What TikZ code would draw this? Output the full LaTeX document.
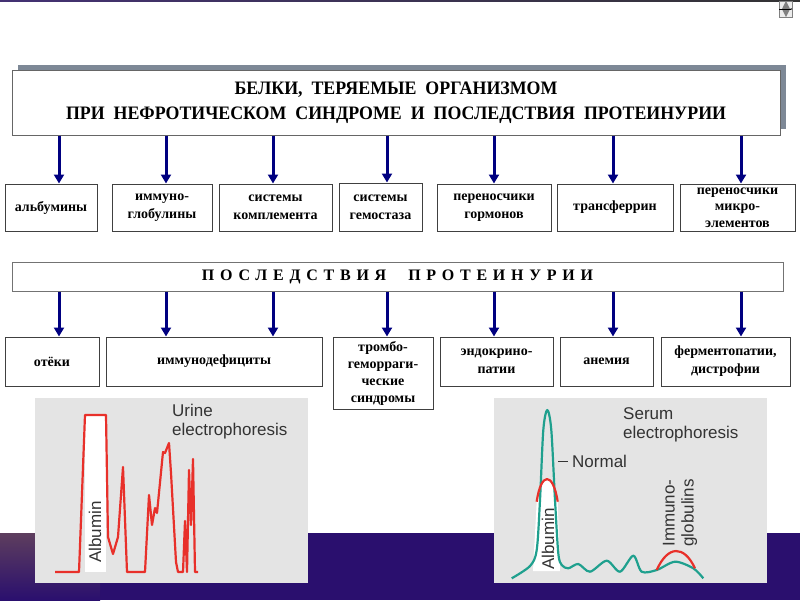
\documentclass[tikz,border=0pt]{standalone}
\usepackage{fontspec}
\setmainfont{Liberation Serif}
\newfontfamily\plotfont{Liberation Sans}
\newfontfamily\titlefont[FakeStretch=0.94]{Liberation Serif}
\newfontfamily\spacedfont[LetterSpace=36]{Liberation Serif}
\usepackage{xcolor}
\usetikzlibrary{arrows.meta}
\definecolor{arrowblue}{HTML}{000080}
\definecolor{shadowgray}{HTML}{7D8896}
\definecolor{bandblue}{HTML}{2A0F6E}
\definecolor{bandmauve}{HTML}{5E3E5E}
\definecolor{panelgray}{HTML}{E4E4E4}
\definecolor{urinered}{HTML}{E8302A}
\definecolor{serumteal}{HTML}{1FA08E}
\definecolor{labelgray}{HTML}{333333}

\begin{document}
\begin{tikzpicture}[x=1pt, y=-1pt,
		block/.style={
			rectangle, draw=black!75, line width=1pt, fill=white,
			align=center, inner sep=2pt,
			font=\fontsize{14}{18}\selectfont\bfseries
		},
		tight/.style={font=\fontsize{14}{16.5}\selectfont\bfseries},
		arrow/.style={-{Triangle[length=9pt,width=10pt]}, line width=3pt, arrowblue},
		trace/.style={line width=2.2pt, line join=round},
		plotlabel/.style={font=\plotfont\fontsize{17}{19}\selectfont, text=labelgray, inner sep=0pt}
	]
	\useasboundingbox (0,0) rectangle (800,600);
	% slide background
	\fill[bandblue] (0,533) rectangle (800,600);
	\shade[top color=bandmauve, bottom color=bandblue] (0,533) rectangle (100,600);
	\shade[left color=bandblue!70!gray, right color=black!80] (0,0) rectangle (800,1.5);
	\node[draw=gray, fill=gray!15, minimum width=13pt, minimum height=16pt, inner sep=0pt] (nav) at (786,9) {};
	\fill[gray] (nav.north) -- ([xshift=-4pt]nav.center) -- (nav.south) -- ([xshift=4pt]nav.center) -- cycle;
	\draw[black, line width=0.6pt, -{Latex[length=2pt]}] (nav.west) -- (nav.east);

	% title with shadow
	\fill[shadowgray] (18,65) rectangle (786,129);
	\node[block, draw=black!60, font=\titlefont\bfseries\fontsize{19}{25}\selectfont,
		minimum width=768pt, minimum height=65pt] (title) at (396,102.5)
		{БЕЛКИ,\ \ ТЕРЯЕМЫЕ\ \ ОРГАНИЗМОМ\\ПРИ\ \ НЕФРОТИЧЕСКОМ\ \ СИНДРОМЕ\ \ И\ \ ПОСЛЕДСТВИЯ\ \ ПРОТЕИНУРИИ};

	% lost proteins
	\node[block, minimum width=92pt, minimum height=47pt] (b1) at (51,207.5) {альбумины};
	\node[block, minimum width=100pt, minimum height=47pt] (b2) at (162,207.5) {иммуно-\\глобулины};
	\node[block, minimum width=113pt, minimum height=47pt] (b3) at (275.5,207.5) {системы\\комплемента};
	\node[block, minimum width=83pt, minimum height=48pt] (b4) at (380.5,207) {системы\\гемостаза};
	\node[block, minimum width=114pt, minimum height=47pt] (b5) at (494,207.5) {переносчики\\гормонов};
	\node[block, minimum width=116pt, minimum height=47pt] (b6) at (615,207.5) {трансферрин};
	\node[block, tight, inner sep=0pt, minimum width=115pt, minimum height=47pt] (b7) at (737.5,207.5) {переносчики\\микро-\\элементов};

	% consequences
	\node[block, draw=black!55, minimum width=771pt, minimum height=29pt] (cons) at (397.5,276.5)
		{\spacedfont\fontsize{16}{18}\selectfont ПОСЛЕДСТВИЯ\hspace{22pt}ПРОТЕИНУРИИ};
	\node[block, minimum width=94pt, minimum height=49pt] (c1) at (52,361.5) {отёки};
	\node[block, minimum width=216pt, minimum height=49pt] (c2) at (214,361.5) {иммунодефициты};
	\node[block, tight, font=\fontsize{14}{17}\selectfont\bfseries, inner sep=0pt,
		minimum width=100pt, minimum height=72pt] (c3) at (383,373) {тромбо-\\геморраги-\\ческие\\синдромы};
	\node[block, minimum width=113pt, minimum height=49pt] (c4) at (496.5,361.5) {эндокрино-\\патии};
	\node[block, minimum width=93pt, minimum height=49pt] (c5) at (606.5,361.5) {анемия};
	\node[block, minimum width=129pt, minimum height=49pt] (c6) at (725.5,361.5) {ферментопатии,\\дистрофии};

	% arrow columns
	\coordinate (x1) at (59,0);
	\coordinate (x2) at (166,0);
	\coordinate (x3) at (273,0);
	\coordinate (x4) at (387,0);
	\coordinate (x5) at (494,0);
	\coordinate (x6) at (613,0);
	\coordinate (x7) at (741,0);
	\foreach \i in {1,...,7}
		\draw[arrow] (title.south -| x\i) -- (b\i.north -| x\i);
	\draw[arrow] (cons.south -| x1) -- (c1.north -| x1);
	\draw[arrow] (cons.south -| x2) -- (c2.north -| x2);
	\draw[arrow] (cons.south -| x3) -- (c2.north -| x3);
	\draw[arrow] (cons.south -| x4) -- (c3.north -| x4);
	\draw[arrow] (cons.south -| x5) -- (c4.north -| x5);
	\draw[arrow] (cons.south -| x6) -- (c5.north -| x6);
	\draw[arrow] (cons.south -| x7) -- (c6.north -| x7);

	% urine electrophoresis
	\fill[panelgray] (35,398) rectangle (308,583);
	\fill[white] (85,415) rectangle (106,572);
	\draw[urinered, trace] (55,572) -- (79,572) -- (85,415) -- (106,415) -- (108,537) -- (113,554)
		-- (118,537) -- (123,467) -- (127,572) -- (145,572) -- (149,495) -- (152,525) -- (155,508)
		-- (157,513) -- (163,452) -- (165,453) -- (167,448) -- (169,443) -- (171,473) -- (176,562)
		-- (178,572) -- (183,572) -- (185,521) -- (187,572) -- (189,470) -- (191,525) -- (193,459)
		-- (195,572) -- (198,572);
	\node[plotlabel, rotate=90] (albu) at (95,532) {Albumin};
	\node[plotlabel, align=left, anchor=north west] (urine) at (172,404) {Urine\\electrophoresis};

	% serum electrophoresis
	\fill[panelgray] (494,398) rectangle (767,583);
	\fill[white] (536.7,501.7) .. controls (541,471.5) and (553,471.5) .. (557.7,501.7)
		-- (560,571) -- (533,571) -- cycle;
	\draw[serumteal, trace] plot[smooth, tension=0.5] coordinates {
		(511.7,578.3) (530,566) (536.7,550) (540,500) (543.3,430) (547.3,410) (551.3,430)
		(555,500) (558.3,553.3) (561.7,565) (568.3,568.3) (578.3,564) (590,571.7) (606.7,560.7)
		(620,571.7) (633.3,555.7) (641.7,571.7) (656.7,570) (675,561.7) (693.3,568.3) (703.3,578.3)};
	\draw[urinered, trace] (536.7,501.7) .. controls (541,471.5) and (553,471.5) .. (557.7,501.7);
	\draw[urinered, trace] (656.7,570) .. controls (668,545) and (684,545) .. (695,568.3);
	\node[plotlabel, rotate=90] (albs) at (548,539) {Albumin};
	\node[plotlabel, align=left, anchor=north west] (serum) at (623,407) {Serum\\electrophoresis};
	\node[plotlabel, anchor=west] (normal) at (572,461) {Normal};
	\coordinate (peakside) at (558,461);
	\draw[labelgray, line width=1pt] (peakside) -- ([xshift=-4pt]normal.west);
	\node[plotlabel, rotate=90, align=left] (immu) at (680,513) {Immuno-\\globulins};
\end{tikzpicture}
\end{document}
